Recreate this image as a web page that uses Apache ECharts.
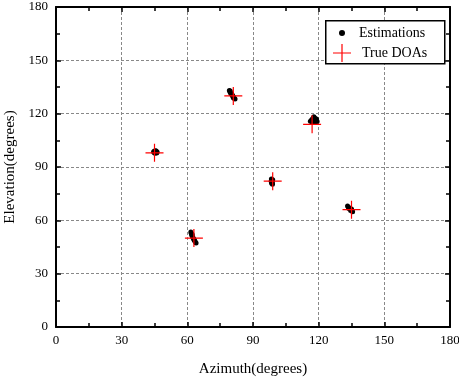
<!DOCTYPE html>
<html>
<head>
<meta charset="utf-8">
<script src="https://cdn.jsdelivr.net/npm/echarts@6/dist/echarts.min.js"></script>
<style>
  html, body { margin: 0; padding: 0; background: #fff; }
  #chart { width: 459px; height: 382px; }
</style>
</head>
<body>
<div id="chart"></div>
<script>
// axis ticks
const xTicks = [0, 30, 60, 90, 120, 150, 180];
const yTicks = [0, 30, 60, 90, 120, 150, 180];

// estimated DOAs [azimuth, elevation]
const estimations = [
  [44.6, 98.6], [45.0, 99.0], [45.4, 98.2], [45.8, 98.8], [46.2, 98.4],
  [45.2, 97.8], [44.8, 98.2], [46.0, 97.9], [45.6, 99.2], [45.3, 98.6],
  [79.2, 133.0], [79.5, 132.2], [79.8, 131.5], [80.2, 131.0], [80.5, 130.4],
  [80.8, 129.8], [81.2, 129.2], [81.5, 128.6], [81.8, 128.2], [79.6, 132.8],
  [80.4, 130.8], [81.0, 129.0],
  [61.6, 53.5], [61.8, 52.6], [62.0, 51.8], [62.3, 51.0], [62.6, 50.2],
  [62.9, 49.5], [63.3, 48.7], [63.6, 48.0], [64.0, 47.2], [62.2, 52.2], [63.1, 49.0],
  [98.4, 83.2], [98.6, 82.4], [98.8, 81.6], [98.5, 80.8], [98.9, 80.3],
  [98.3, 82.0], [99.0, 82.8], [98.7, 81.0],
  [116.2, 115.8], [116.8, 116.6], [117.4, 117.4], [118.0, 117.8], [118.5, 117.2],
  [118.9, 116.4], [119.3, 115.6], [117.6, 116.2], [118.2, 115.2], [117.0, 115.0],
  [119.0, 117.0], [117.8, 118.2],
  [133.2, 68.0], [133.6, 67.4], [134.0, 67.0], [134.4, 66.5], [134.8, 66.0],
  [135.2, 65.4], [135.5, 64.8], [133.8, 66.6], [134.6, 65.6], [135.0, 66.4]
];

// true DOAs [azimuth, elevation]
const trueDOAs = [
  [45, 98], [81, 130], [63, 50], [99, 82], [117, 114], [135, 66]
];

const font = 'Liberation Serif';
const crossIcon = 'path://M0,8.4H18V9.6H0Z M8.4,0H9.6V18H8.4Z';

const chart = echarts.init(document.getElementById('chart'));

const frameAxis = {
  min: 0, max: 180, interval: 30,
  axisLine: { show: true, onZero: false, lineStyle: { color: '#000', width: 2 } },
  axisTick: { show: true, inside: true, length: 5, lineStyle: { color: '#000', width: 1.5 } },
  minorTick: { show: true, splitNumber: 2, length: 4, lineStyle: { color: '#000', width: 1.5 } },
  axisLabel: { show: false },
  splitLine: { show: false }
};

chart.setOption({
  animation: false,
  grid: { left: 56, right: 9, top: 7, bottom: 55, outerBoundsMode: 'none' },
  graphic: [{
    type: 'rect',
    left: 325, top: 20,
    shape: { width: 119, height: 43 },
    style: { fill: '#fff', stroke: '#000', lineWidth: 1.5 },
    z: 5
  }],
  legend: [{
    data: [{ name: 'Estimations', icon: 'circle' }],
    left: 334, top: 21,
    itemWidth: 6, itemHeight: 6,
    textStyle: { fontFamily: font, fontSize: 14, color: '#000', padding: [0, 0, 0, 9] },
    z: 10
  }, {
    data: [{ name: 'True DOAs', icon: crossIcon }],
    left: 328, top: 39,
    itemWidth: 18, itemHeight: 18,
    textStyle: { fontFamily: font, fontSize: 14, color: '#000', padding: [0, 0, 0, 6] },
    z: 10
  }],
  xAxis: [{
    type: 'value',
    position: 'bottom',
    min: 0, max: 180, interval: 30,
    name: 'Azimuth(degrees)',
    nameLocation: 'middle',
    nameGap: 35,
    nameTextStyle: { fontFamily: font, fontSize: 15, color: '#000' },
    axisLine: { show: true, onZero: false, lineStyle: { color: '#000', width: 2 } },
    axisTick: { show: true, inside: true, length: 5, lineStyle: { color: '#000', width: 1.5 } },
    minorTick: { show: true, splitNumber: 2, length: 4, lineStyle: { color: '#000', width: 1.5 } },
    axisLabel: {
      fontFamily: font, fontSize: 13, color: '#000', margin: 7,
      formatter: v => xTicks.includes(v) ? String(v) : ''
    },
    splitLine: { show: true, lineStyle: { color: '#888', type: [3, 2], width: 1 } }
  }, Object.assign({ type: 'value', position: 'top' }, frameAxis)],
  yAxis: [{
    type: 'value',
    position: 'left',
    min: 0, max: 180, interval: 30,
    name: 'Elevation(degrees)',
    nameLocation: 'middle',
    nameGap: 36,
    nameTextStyle: { fontFamily: font, fontSize: 15, color: '#000' },
    axisLine: { show: true, onZero: false, lineStyle: { color: '#000', width: 2 } },
    axisTick: { show: true, inside: true, length: 5, lineStyle: { color: '#000', width: 1.5 } },
    minorTick: { show: true, splitNumber: 2, length: 4, lineStyle: { color: '#000', width: 1.5 } },
    axisLabel: {
      fontFamily: font, fontSize: 13, color: '#000', margin: 8,
      formatter: v => yTicks.includes(v) ? String(v) : ''
    },
    splitLine: { show: true, lineStyle: { color: '#888', type: [3, 2], width: 1 } }
  }, Object.assign({ type: 'value', position: 'right' }, frameAxis)],
  series: [{
    name: 'Estimations',
    type: 'scatter',
    symbol: 'circle',
    symbolSize: 5,
    itemStyle: { color: '#000', opacity: 1 },
    data: estimations
  }, {
    name: 'True DOAs',
    type: 'scatter',
    symbol: crossIcon,
    symbolSize: 18,
    itemStyle: { color: '#ff0000', opacity: 1 },
    data: trueDOAs
  }]
});
</script>
</body>
</html>
